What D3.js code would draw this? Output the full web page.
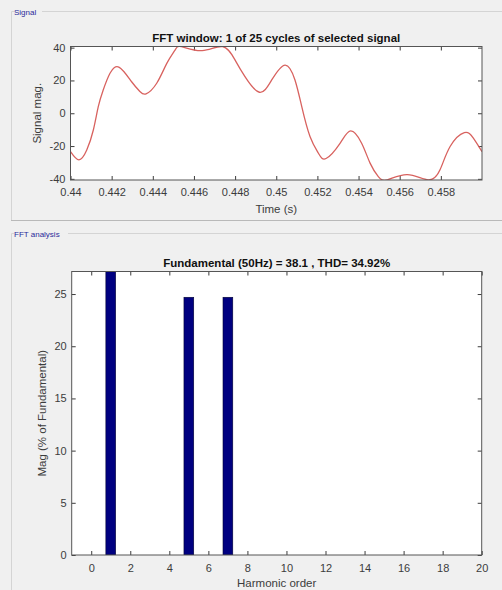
<!DOCTYPE html>
<html>
<head>
<meta charset="utf-8">
<script src="https://cdn.jsdelivr.net/npm/d3@7"></script>
<style>
  html, body { margin: 0; padding: 0; background: #f0f0f0; }
  svg { display: block; }
  text { font-family: "Liberation Sans", Arial, Helvetica, sans-serif; }
</style>
</head>
<body>
<svg id="fig" width="502" height="590"></svg>
<script>
// ---- Signal window: sampled time (s) and signal magnitude ----
const signalTime = [
  0.44000, 0.44041, 0.44079, 0.44111, 0.44135, 0.44159, 0.44192, 0.44237,
  0.44297, 0.44338, 0.44367, 0.44419, 0.44468, 0.44508, 0.44540, 0.44640,
  0.44740, 0.44800, 0.44848, 0.44918, 0.44978, 0.45043, 0.45091, 0.45124,
  0.45164, 0.45205, 0.45242, 0.45310, 0.45362, 0.45415, 0.45456, 0.45496,
  0.45540, 0.45637, 0.45739, 0.45796, 0.45845, 0.45914, 0.45958, 0.46000
];
const signalMag = [
  -23.4, -28.4, -22.4, -10.2, 4.0, 14.2, 24.4, 28.0,
  19.2, 13.2, 11.8, 18.3, 30.4, 38.5, 40.6, 38.2,
  40.6, 32.4, 22.3, 12.8, 20.3, 29.4, 20.3, 4.0,
  -14.2, -24.4, -27.6, -18.3, -10.8, -18.3, -30.4, -38.6,
  -40.6, -37.4, -40.6, -34.5, -20.3, -11.8, -15.2, -23.4
];
const timeTicks = [0.44, 0.442, 0.444, 0.446, 0.448, 0.45, 0.452, 0.454, 0.456, 0.458];
const signalTicks = [-40, -20, 0, 20, 40];

// ---- FFT analysis: harmonic order and magnitude (% of fundamental) ----
const harmonicOrder = [0, 1, 2, 3, 4, 5, 6, 7, 8, 9, 10, 11, 12, 13, 14, 15, 16, 17, 18, 19, 20];
const harmonicMag   = [0, 100, 0, 0, 0, 24.69, 0, 24.69, 0, 0, 0, 0, 0, 0, 0, 0, 0, 0, 0, 0, 0];
const orderTicks = [0, 2, 4, 6, 8, 10, 12, 14, 16, 18, 20];
const magTicks = [0, 5, 10, 15, 20, 25];

const fundamentalHz = 50, fundamentalMag = 38.1, thd = 34.92;

const svg = d3.select("#fig");
const axisColor = "#3c3c3c";
const plain = d => String(d);   // ASCII hyphen for negatives

// ---- group boxes ----
function groupBox(top, bottom, label, labelWidth) {
  const g = svg.append("g");
  g.append("line").attr("x1", 11.5).attr("x2", 11.5).attr("y1", top).attr("y2", bottom)
    .attr("stroke", "#d4d4d4");
  g.append("line").attr("x1", 11.5).attr("x2", 14).attr("y1", top).attr("y2", top)
    .attr("stroke", "#d4d4d4");
  g.append("line").attr("x1", 14 + labelWidth).attr("x2", 502).attr("y1", top).attr("y2", top)
    .attr("stroke", "#d4d4d4");
  g.append("text").attr("x", 14).attr("y", top + 3).attr("font-size", 8)
    .attr("fill", "#2b2b9a").text(label);
}
groupBox(11.5, 220, "Signal", 28);
svg.append("line").attr("x1", 11).attr("x2", 502).attr("y1", 220.5).attr("y2", 220.5)
  .attr("stroke", "#b9b9b9");
groupBox(233.5, 590, "FFT analysis", 54);

// ---- generic boxed axes with inward ticks on all four sides ----
function boxedAxes(x, y, xTicks, yTicks, xPad) {
  const [x0, x1] = x.range(), [y0, y1] = y.range();
  const g = svg.append("g");
  g.append("rect").attr("x", x0).attr("y", y1).attr("width", x1 - x0).attr("height", y0 - y1)
    .attr("fill", "#fff");
  const style = sel => {
    sel.select(".domain").remove();
    sel.selectAll("line").attr("stroke", axisColor);
    sel.selectAll("text").attr("fill", axisColor).attr("font-size", 11)
      .attr("font-family", '"Liberation Sans", Arial, sans-serif');
  };
  g.append("g").attr("transform", `translate(0,${y0})`)
    .call(d3.axisBottom(x).tickValues(xTicks).tickFormat(plain).tickSize(-4).tickPadding(xPad))
    .call(style);
  g.append("g").attr("transform", `translate(0,${y1})`)
    .call(d3.axisTop(x).tickValues(xTicks).tickFormat("").tickSize(-4)).call(style);
  g.append("g").attr("transform", `translate(${x0},0)`)
    .call(d3.axisLeft(y).tickValues(yTicks).tickFormat(plain).tickSize(-4).tickPadding(5))
    .call(style);
  g.append("g").attr("transform", `translate(${x1},0)`)
    .call(d3.axisRight(y).tickValues(yTicks).tickFormat("").tickSize(-4)).call(style);
  return g;
}

function frame(x, y) {
  const [x0, x1] = x.range(), [y0, y1] = y.range();
  svg.append("rect").attr("x", x0).attr("y", y1).attr("width", x1 - x0).attr("height", y0 - y1)
    .attr("fill", "none").attr("stroke", "#555").attr("stroke-width", 1);
}

function titles(x, y, title, xlabel, ylabel, titleY, xlabelY, ylabelX) {
  const [x0, x1] = x.range(), [y0, y1] = y.range();
  const cx = (x0 + x1) / 2, cy = (y0 + y1) / 2;
  svg.append("text").attr("x", cx).attr("y", titleY).attr("text-anchor", "middle")
    .attr("font-size", 11.5).attr("font-weight", "bold").attr("fill", "#111").text(title);
  svg.append("text").attr("x", cx).attr("y", xlabelY).attr("text-anchor", "middle")
    .attr("font-size", 11.5).attr("fill", axisColor).text(xlabel);
  svg.append("text").attr("transform", `translate(${ylabelX},${cy}) rotate(-90)`)
    .attr("text-anchor", "middle").attr("font-size", 11.5).attr("fill", axisColor).text(ylabel);
}

// ---- top plot: signal over one cycle ----
const xT = d3.scaleLinear().domain([0.44, 0.46]).range([70.5, 482]);
const yT = d3.scaleLinear().domain([-40.7, 40.7]).range([180, 46.5]);
boxedAxes(xT, yT, timeTicks, signalTicks, 8);

svg.append("clipPath").attr("id", "clipTop").append("rect")
  .attr("x", 70.5).attr("y", 46.5).attr("width", 411.5).attr("height", 133.5);
const line = d3.line().x((d, i) => xT(signalTime[i])).y(d => yT(d))
  .curve(d3.curveNatural);
svg.append("path").datum(signalMag).attr("clip-path", "url(#clipTop)")
  .attr("d", line).attr("fill", "none").attr("stroke", "#d8625f").attr("stroke-width", 1.3);
frame(xT, yT);
titles(xT, yT, "FFT window: 1 of 25 cycles of selected signal", "Time (s)", "Signal mag.",
  41.5, 213, 41);

// ---- bottom plot: harmonic spectrum ----
const xB = d3.scaleLinear().domain([-1, 20]).range([71.7, 481.7]);
const yB = d3.scaleLinear().domain([0, 27.16]).range([555, 271.5]);
boxedAxes(xB, yB, orderTicks, magTicks, 9);

svg.append("clipPath").attr("id", "clipBot").append("rect")
  .attr("x", 71.7).attr("y", 271.5).attr("width", 410).attr("height", 283.5);
const barW = 0.5;
svg.append("g").attr("clip-path", "url(#clipBot)")
  .selectAll("rect").data(harmonicOrder.map((h, i) => ({ h, v: harmonicMag[i] })).filter(d => d.v > 0))
  .join("rect")
  .attr("x", d => xB(d.h - barW / 2))
  .attr("width", d => xB(d.h + barW / 2) - xB(d.h - barW / 2))
  .attr("y", d => yB(d.v))
  .attr("height", d => yB(0) - yB(d.v))
  .attr("fill", "#000080").attr("stroke", "#000033").attr("stroke-width", 0.6);
frame(xB, yB);
titles(xB, yB, `Fundamental (${fundamentalHz}Hz) = ${fundamentalMag} , THD= ${thd}%`,
  "Harmonic order", "Mag (% of Fundamental)", 267, 587, 46);
</script>
</body>
</html>
